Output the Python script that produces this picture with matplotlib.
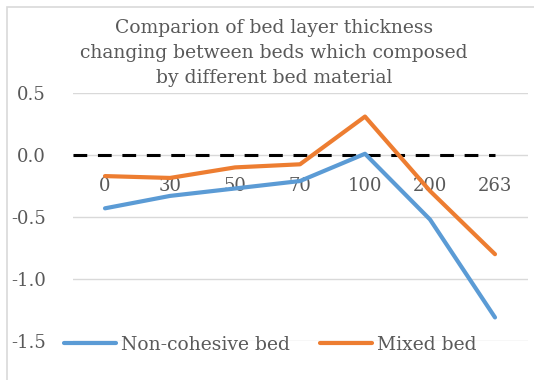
import numpy as np
import matplotlib.pyplot as plt
from matplotlib.patches import Rectangle

categories = ['0', '30', '50', '70', '100', '200', '263']
non_cohesive = [-0.43, -0.33, -0.27, -0.21, 0.01, -0.52, -1.31]
mixed = [-0.17, -0.185, -0.10, -0.075, 0.31, -0.29, -0.80]

grey = '#595959'
plt.rcParams['font.family'] = 'DejaVu Serif'

fig = plt.figure(figsize=(5.34, 3.8), dpi=100)
fig.patches.append(Rectangle((7/534, -0.1), 1.2, 1 - 7/380 + 0.1, transform=fig.transFigure,
                             fill=False, edgecolor='#d9d9d9', linewidth=1.2))

ax = fig.add_axes([72.5/534, 39/380, 455/534, 248/380])
x = np.arange(len(categories))

ax.plot(x, non_cohesive, color='#5b9bd5', lw=3, solid_capstyle='round', label='Non-cohesive bed', zorder=3)
ax.plot(x, mixed, color='#ed7d31', lw=3, solid_capstyle='round', label='Mixed bed', zorder=3)
ax.axhline(0, xmin=0, xmax=6.5/7, color='black', lw=2.2, dashes=(4.5, 3.5), zorder=2)

ax.set_xlim(-0.5, 6.5)
ax.set_ylim(-1.5, 0.5)
ax.set_yticks([-1.5, -1.0, -0.5, 0.0, 0.5])
ax.set_yticklabels(['-1.5', '-1.0', '-0.5', '0.0', '0.5'])
ax.set_xticks(x)
ax.set_xticklabels(categories)
ax.grid(axis='y', color='#d9d9d9', lw=1)
ax.set_axisbelow(True)
for s in ax.spines.values():
    s.set_visible(False)
ax.spines['bottom'].set_position(('data', 0))
ax.tick_params(axis='x', length=0, pad=16, labelsize=13, colors=grey)
ax.tick_params(axis='y', length=0, pad=19, labelsize=13, colors=grey)

fig.text(274/534, 1 - 53/380, 'Comparion of bed layer thickness\nchanging between beds which composed\nby different bed material',
         ha='center', va='center', fontsize=13.5, color=grey, linespacing=1.5)

fig.legend(loc='center', bbox_to_anchor=(270/534, 35/380), ncol=2, frameon=False,
           fontsize=13.5, handlelength=2.8, handletextpad=0.25, columnspacing=1.6,
           labelcolor=grey)

fig.savefig('out.png', dpi=100)
